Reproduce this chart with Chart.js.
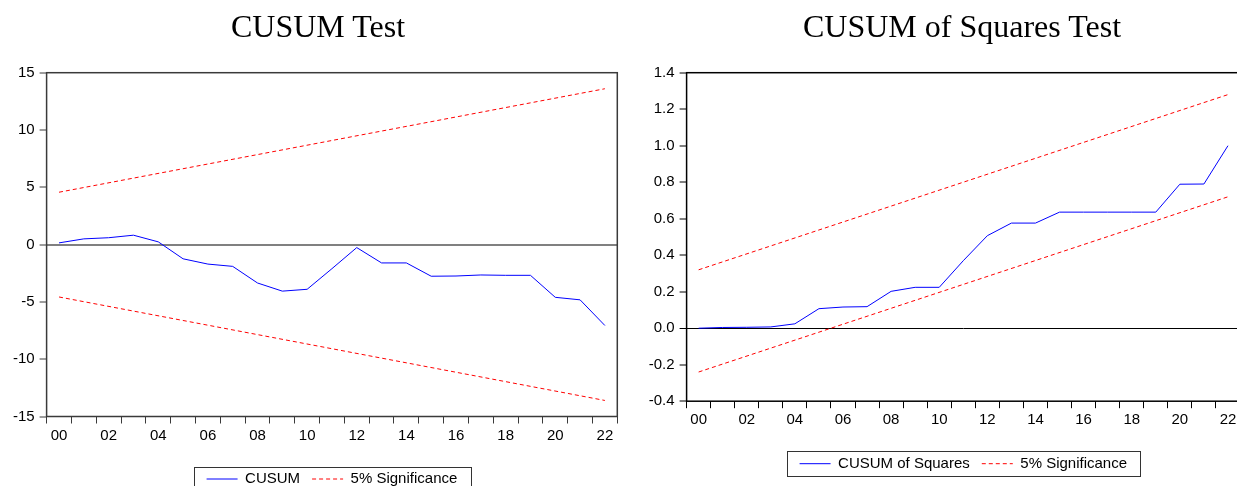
<!DOCTYPE html>
<html>
<head>
<meta charset="utf-8">
<script src="https://cdn.jsdelivr.net/npm/chart.js@4/dist/chart.umd.min.js"></script>
<style>
  html, body { margin: 0; padding: 0; background: #fff; overflow: hidden; width: 1237px; height: 486px; }
  .box { position: absolute; top: 0; }
  .title {
    position: absolute; top: 10px; width: 500px; text-align: center; white-space: nowrap;
    font-family: "Liberation Serif", "Times New Roman", serif; font-size: 32px; line-height: 32px; color: #000;
  }
</style>
</head>
<body>
<div class="box" style="left:0px"><canvas id="cusumChart" width="630" height="500"></canvas></div>
<div class="box" style="left:640px"><canvas id="squaresChart" width="612" height="486"></canvas></div>
<div class="title" style="left:68px">CUSUM Test</div>
<div class="title" style="left:712px">CUSUM of Squares Test</div>
<script>
// 연도 (2000 ~ 2022)
const years = ['00', '01', '02', '03', '04', '05', '06', '07', '08', '09', '10',
               '11', '12', '13', '14', '15', '16', '17', '18', '19', '20', '21', '22'];

// CUSUM 값
const cusum = [0.15, 0.5, 0.6, 0.82, 0.24, -1.24, -1.7, -1.9, -3.35, -4.06, -3.9,
               -2.1, -0.26, -1.6, -1.6, -2.76, -2.74, -2.65, -2.68, -2.68, -4.6, -4.82, -7.06];
// 5% 유의수준 경계 (첫 해, 마지막 해)
const cusumUpper = [4.57, 13.6];
const cusumLower = [-4.57, -13.6];
const cusumTicks = [-15, -10, -5, 0, 5, 10, 15];

// CUSUM of Squares 값
const squares = [0.0, 0.004, 0.005, 0.007, 0.024, 0.107, 0.116, 0.118, 0.202, 0.224, 0.224,
                 0.37, 0.507, 0.576, 0.576, 0.636, 0.636, 0.636, 0.636, 0.636, 0.789, 0.79, 1.0];
const squaresUpper = [0.32, 1.28];
const squaresLower = [-0.24, 0.72];
const squaresTicks = [-0.4, -0.2, 0.0, 0.2, 0.4, 0.6, 0.8, 1.0, 1.2, 1.4];

// 경계선은 양 끝점만 이어서 그린다
function band(pair) {
    return [{ x: years[0], y: pair[0] }, { x: years[years.length - 1], y: pair[1] }];
}

// 플롯 테두리 + 범례 박스
const framePlugin = {
    id: 'frame',
    afterDraw(chart, args, opts) {
        const ctx = chart.ctx;
        const a = chart.chartArea;
        ctx.save();
        ctx.strokeStyle = opts.color;
        ctx.lineWidth = opts.width;
        ctx.strokeRect(a.left, a.top, a.right - a.left, a.bottom - a.top);

        const boxes = chart.legend.legendHitBoxes;
        if (boxes && boxes.length) {
            const left = Math.min(...boxes.map(b => b.left)) - 13;
            const right = Math.max(...boxes.map(b => b.left + b.width)) + 13;
            const cy = boxes[0].top + boxes[0].height / 2;
            ctx.lineWidth = 1;
            ctx.strokeStyle = '#333';
            ctx.strokeRect(Math.round(left) + 0.5, Math.round(cy - 12.5) + 0.5, Math.round(right - left), 25);
        }
        ctx.restore();
    }
};

function makeChart(id, cfg) {
    const font = { family: '"Liberation Sans", Arial, sans-serif', size: 15 };
    return new Chart(document.getElementById(id), {
        type: 'line',
        data: {
            labels: years,
            datasets: [
                { label: cfg.name, data: cfg.values, borderColor: '#0000ff', borderWidth: 1 },
                { label: '5% Significance', data: band(cfg.upper), borderColor: '#ff0000', borderWidth: 1, borderDash: [4, 3] },
                { label: '5% Significance', data: band(cfg.lower), borderColor: '#ff0000', borderWidth: 1, borderDash: [4, 3] }
            ]
        },
        options: {
            responsive: false,
            animation: false,
            elements: { point: { radius: 0 }, line: { tension: 0 } },
            layout: { padding: { top: 72.7, right: cfg.padRight, bottom: cfg.padBottom, left: 0 } },
            plugins: {
                tooltip: { enabled: false },
                title: { display: false },
                frame: { color: cfg.frameColor, width: 1.5 },
                legend: {
                    position: 'bottom',
                    fullSize: false,
                    labels: {
                        font: font,
                        color: '#000',
                        padding: 12,
                        usePointStyle: true,
                        pointStyleWidth: 31,
                        // 범례: 실선(CUSUM) + 점선(5% Significance) 두 개만
                        generateLabels: chart => chart.data.datasets.slice(0, 2).map((ds, i) => ({
                            text: ds.label,
                            strokeStyle: ds.borderColor,
                            fillStyle: ds.borderColor,
                            fontColor: '#000',
                            lineWidth: 1,
                            lineDash: ds.borderDash || [],
                            pointStyle: 'line',
                            hidden: false,
                            datasetIndex: i
                        }))
                    }
                }
            },
            scales: {
                x: {
                    type: 'category',
                    offset: true,
                    afterFit: axis => { axis.height = 43; },
                    border: { display: false },
                    grid: { offset: true, drawOnChartArea: false, tickLength: 7, tickColor: cfg.frameColor, tickWidth: 1 },
                    ticks: {
                        font: font, color: '#000', padding: 3, autoSkip: false, maxRotation: 0,
                        callback: (val, i) => (i % 2 === 0 ? years[i] : '')
                    }
                },
                y: {
                    min: cfg.ticks[0],
                    max: cfg.ticks[cfg.ticks.length - 1],
                    afterFit: axis => { axis.width = 46.6; },
                    afterBuildTicks: axis => { axis.ticks = cfg.ticks.map(v => ({ value: v })); },
                    border: { display: false },
                    grid: {
                        color: c => (c.tick && Math.abs(c.tick.value) < 1e-9 ? cfg.zeroColor : 'rgba(0,0,0,0)'),
                        lineWidth: c => (c.tick && Math.abs(c.tick.value) < 1e-9 ? cfg.zeroWidth : 0),
                        tickLength: 7, tickColor: cfg.frameColor, tickWidth: 1
                    },
                    ticks: { font: font, color: '#000', padding: 5, callback: cfg.format }
                }
            }
        },
        plugins: [framePlugin]
    });
}

makeChart('cusumChart', {
    name: 'CUSUM', values: cusum, upper: cusumUpper, lower: cusumLower, ticks: cusumTicks,
    padRight: 12.7, padBottom: 3.5, frameColor: '#3a3a3a', zeroColor: '#808080', zeroWidth: 2,
    format: v => String(v)
});

makeChart('squaresChart', {
    name: 'CUSUM of Squares', values: squares, upper: squaresUpper, lower: squaresLower, ticks: squaresTicks,
    padRight: 12, padBottom: 4.8, frameColor: '#000', zeroColor: '#000', zeroWidth: 1,
    format: v => v.toFixed(1)
});
</script>
</body>
</html>
